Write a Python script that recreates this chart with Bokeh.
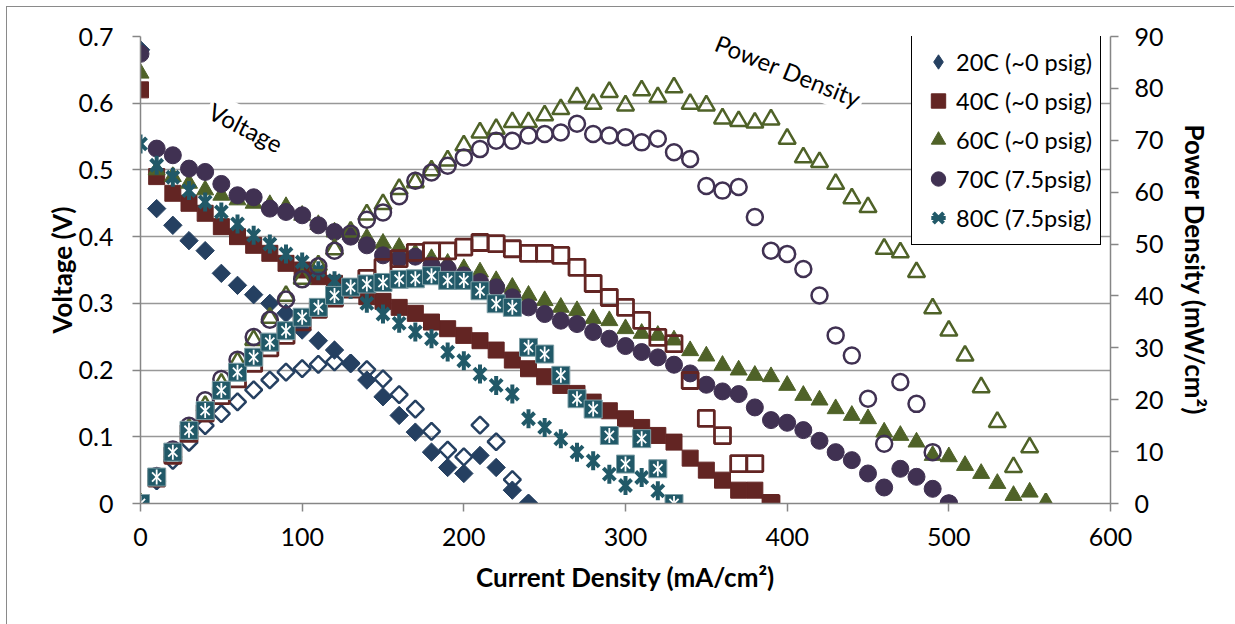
import numpy as np
from bokeh.plotting import figure
from bokeh.models import (Range1d, LinearAxis, Legend, LegendItem, Label,
                          FixedTicker, CustomJSTickFormatter)
from bokeh.embed import file_html
from bokeh.resources import INLINE

# ---------------- data ----------------
current = [0, 10, 20, 30, 40, 50, 60, 70, 80, 90, 100, 110, 120, 130, 140,
           150, 160, 170, 180, 190, 200, 210, 220, 230, 240, 250, 260, 270,
           280, 290, 300, 310, 320, 330, 340, 350, 360, 370, 380, 390, 400,
           410, 420, 430, 440, 450, 460, 470, 480, 490, 500, 510, 520, 530,
           540, 550, 560]

v20 = [0.68, 0.442, 0.417, 0.394, 0.379, 0.345, 0.327, 0.313, 0.30, 0.285,
       0.26, 0.244, 0.23, 0.21, 0.185, 0.16, 0.132, 0.107, 0.077, 0.054,
       0.045, 0.072, 0.054, 0.02, 0.0]
p20 = [0, 4.4, 8.3, 11.8, 15, 17.3, 19.6, 21.9, 23.8, 25.3, 26, 26.8, 27.3,
       27, 25.8, 24, 21, 18.2, 13.9, 10.3, 9, 15.1, 11.9, 4.6, 0]

v40 = [0.62, 0.49, 0.465, 0.45, 0.435, 0.415, 0.40, 0.387, 0.375, 0.36,
       0.35, 0.34, 0.33, 0.32, 0.31, 0.303, 0.294, 0.285, 0.272, 0.262,
       0.252, 0.244, 0.23, 0.215, 0.202, 0.19, 0.177, 0.165, 0.152, 0.139,
       0.127, 0.114, 0.102, 0.092, 0.068, 0.05, 0.035, 0.02, 0.02, 0.0]
p40 = [0, 4.9, 9.3, 13.5, 17.4, 20.8, 24, 27, 30, 32.4, 35, 37.4, 39.6, 41.6,
       43.4, 45.5, 47.2, 48.4, 48.7, 48.7, 49.4, 50.3, 50.1, 49.1, 48.2, 48.2,
       47.8, 45.5, 42.4, 39.7, 37.8, 35.3, 32, 30.8, 23.7, 16.4, 13.1, 7.7,
       7.7, 0]

v60 = [0.645, 0.50, 0.49, 0.48, 0.47, 0.462, 0.455, 0.45, 0.448, 0.445,
       0.432, 0.418, 0.407, 0.403, 0.398, 0.39, 0.384, 0.375, 0.367, 0.36,
       0.352, 0.347, 0.334, 0.324, 0.312, 0.304, 0.294, 0.289, 0.277, 0.274,
       0.262, 0.255, 0.252, 0.245, 0.229, 0.221, 0.207, 0.2, 0.192, 0.19,
       0.177, 0.162, 0.155, 0.142, 0.132, 0.127, 0.107, 0.102, 0.092, 0.072,
       0.07, 0.057, 0.045, 0.03, 0.012, 0.017, 0.0]
p60 = [0, 5, 9.8, 14.4, 18.8, 23.1, 27.3, 31.5, 35.8, 40, 43.3, 45.9, 49,
       52.4, 55.7, 57.7, 60.6, 61.9, 64.2, 66.1, 69, 71.5, 72.2, 73.5, 73.5,
       74.8, 76, 78.3, 77, 79.3, 76.7, 79.6, 78.3, 80.2, 77, 76.7, 74.2, 73.7,
       73.4, 74, 70.3, 66.7, 65.8, 61.6, 58.8, 57.1, 49.1, 48.4, 44.6, 37.6,
       33.3, 28.5, 22.4, 15.7, 7, 10.8, 0]

v70 = [0.674, 0.532, 0.522, 0.502, 0.497, 0.479, 0.462, 0.459, 0.442, 0.437,
       0.432, 0.417, 0.407, 0.40, 0.387, 0.372, 0.367, 0.37, 0.357, 0.352,
       0.342, 0.332, 0.324, 0.309, 0.294, 0.284, 0.274, 0.269, 0.257, 0.247,
       0.236, 0.227, 0.219, 0.208, 0.195, 0.178, 0.168, 0.164, 0.144, 0.125,
       0.121, 0.11, 0.094, 0.077, 0.065, 0.045, 0.024, 0.052, 0.04, 0.022, 0.0]
p70 = [0, 5.3, 10.4, 15, 19.9, 24, 27.7, 32.1, 35.4, 39.3, 43.2, 45.7, 48.7,
       52, 54.7, 56.1, 59.2, 62.2, 63.8, 65.1, 66.7, 68.3, 69.9, 69.9, 70.9,
       71.2, 71.5, 73.2, 71.2, 70.9, 70.6, 69.6, 70.3, 67.7, 66.4, 61.2, 60.3,
       61, 55.2, 48.7, 48.1, 45.2, 40.1, 32.4, 28.5, 20.2, 11.5, 23.4, 19.2,
       9.9, 0]

v80 = [0.539, 0.507, 0.489, 0.469, 0.452, 0.437, 0.419, 0.402, 0.389, 0.374,
       0.362, 0.349, 0.334, 0.321, 0.30, 0.284, 0.27, 0.257, 0.247, 0.227,
       0.214, 0.194, 0.177, 0.164, 0.127, 0.114, 0.097, 0.077, 0.064, 0.044,
       0.027, 0.039, 0.019, 0.0]
p80 = [0, 5.1, 9.9, 14.1, 17.9, 21.8, 25.3, 28.2, 31.1, 33.3, 35.9, 37.8,
       40.1, 41.7, 42.3, 42.6, 43.2, 43.3, 43.9, 43, 43, 41, 38.5, 37.8, 30.1,
       28.8, 24.7, 20.2, 18.2, 13.1, 7.6, 12.5, 6.7, 0]

labels = ["20C (~0 psig)", "40C (~0 psig)", "60C (~0 psig)",
          "70C (7.5psig)", "80C (7.5psig)"]
x_ticks = [0, 100, 200, 300, 400, 500, 600]
v_ticks = [0, 0.1, 0.2, 0.3, 0.4, 0.5, 0.6, 0.7]
p_ticks = [0, 10, 20, 30, 40, 50, 60, 70, 80, 90]

# ---------------- styling ----------------
FONT = "Lato"
C20, C40, C60, C70, C80 = "#254061", "#632523", "#4F6228", "#403152", "#215968"
AX = "#868686"

p = figure(width=1228, height=618, x_range=Range1d(0, 600),
           y_range=Range1d(0, 0.7), output_backend="svg",
           toolbar_location=None, margin=(6, 0, 0, 6),
           min_border_left=133, min_border_right=125, min_border_top=29,
           min_border_bottom=122,
           styles={"border-top": "1px solid #8a8a8a",
                   "border-left": "1px solid #8a8a8a"})
p.extra_y_ranges = {"p": Range1d(0, 90)}
p.outline_line_color = None
p.background_fill_color = "white"
p.border_fill_color = "white"

fmt = CustomJSTickFormatter(code="return String(Math.round(tick*10)/10)")


def style_axis(ax, ticks, title):
    ax.ticker = FixedTicker(ticks=ticks)
    ax.axis_label = title
    ax.axis_label_text_font = FONT
    ax.axis_label_text_font_style = "bold"
    ax.axis_label_text_font_size = "26px"
    ax.axis_label_text_color = "black"
    ax.major_label_text_font = FONT
    ax.major_label_text_font_size = "25px"
    ax.major_label_text_color = "black"
    ax.axis_line_color = AX
    ax.axis_line_width = 1.5
    ax.major_tick_line_color = AX
    ax.major_tick_line_width = 1.5
    ax.major_tick_in = 0
    ax.major_tick_out = 8
    ax.minor_tick_line_color = None


style_axis(p.xaxis[0], x_ticks, "Current Density (mA/cm²)")
p.xaxis[0].major_label_standoff = 16
p.xaxis[0].axis_label_standoff = 12
style_axis(p.yaxis[0], v_ticks, "Voltage (V)")
p.yaxis[0].formatter = fmt
p.yaxis[0].major_label_standoff = 19
p.yaxis[0].axis_label_standoff = -2

ry = LinearAxis(y_range_name="p")
style_axis(ry, p_ticks, "Power Density (mW/cm²)")
ry.major_label_standoff = 16
ry.axis_label_standoff = 12
p.add_layout(ry, "right")

p.xgrid.grid_line_color = None
p.ygrid.ticker = FixedTicker(ticks=v_ticks)
p.ygrid.grid_line_color = "#989898"
p.ygrid.grid_line_width = 1.3

# ---------------- voltage series (filled) ----------------
r20v = p.scatter(current[:len(v20)], v20, marker="square", angle=np.pi / 4,
                 size=13, fill_color=C20, line_color=C20)
r40v = p.scatter(current[:len(v40)], v40, marker="square", size=16,
                 fill_color=C40, line_color=C40)
r60v = p.scatter(current[:len(v60)], v60, marker="triangle", size=17,
                 fill_color=C60, line_color=C60)
r70v = p.scatter(current[:len(v70)], v70, marker="circle", size=17,
                 fill_color=C70, line_color=C70)
r80v_a = p.scatter(current[:len(v80)], v80, marker="x", size=17,
                   line_color=C80, line_width=4)
r80v_b = p.scatter(current[:len(v80)], v80, marker="dash", angle=np.pi / 2,
                   size=19, line_color=C80, line_width=4)

# ---------------- power density series (open) ----------------
p.scatter(current[:len(p20)], p20, y_range_name="p", marker="square",
          angle=np.pi / 4, size=12, fill_color=None, line_color=C20,
          line_width=2.5)
p.scatter(current[:len(p40)], p40, y_range_name="p", marker="square",
          size=16, fill_color=None, line_color=C40, line_width=2.8)
p.scatter(current[:len(p60)], p60, y_range_name="p", marker="triangle",
          size=17, fill_color=None, line_color=C60, line_width=2.5)
p.scatter(current[:len(p70)], p70, y_range_name="p", marker="circle",
          size=16, fill_color=None, line_color=C70, line_width=2.5)
p.scatter(current[:len(p80)], p80, y_range_name="p", marker="square",
          size=18, fill_color=C80, line_color="#7f9fa6", line_width=1)
p.scatter(current[:len(p80)], p80, y_range_name="p", marker="x",
          size=13, line_color="white", line_width=1.8)
p.scatter(current[:len(p80)], p80, y_range_name="p", marker="dash",
          angle=np.pi / 2, size=15, line_color="white", line_width=1.8)

# legend-only (hidden) diamond renderer for the 20C series
r20_leg = p.scatter(current[:len(v20)], v20, marker="diamond",
                    fill_color=C20, line_color=C20, visible=False)

# ---------------- annotations ----------------
p.add_layout(Label(x=65.2, y=0.564, text="Voltage", angle=-27,
                   angle_units="deg", text_align="center",
                   text_baseline="middle", text_font=FONT,
                   text_font_size="24px", text_color="black",
                   background_fill_color="white", padding=3))
p.add_layout(Label(x=400.7, y=0.649, text="Power Density", angle=-22,
                   angle_units="deg", text_align="center",
                   text_baseline="middle", text_font=FONT,
                   text_font_size="24px", text_color="black",
                   background_fill_color="white", padding=3))

legend = Legend(items=[LegendItem(label=labels[0], renderers=[r20_leg]),
                       LegendItem(label=labels[1], renderers=[r40v]),
                       LegendItem(label=labels[2], renderers=[r60v]),
                       LegendItem(label=labels[3], renderers=[r70v]),
                       LegendItem(label=labels[4], renderers=[r80v_a, r80v_b])],
                location=(771, 258))
legend.border_line_color = "black"
legend.border_line_width = 1.2
legend.border_line_alpha = 1
legend.background_fill_color = "white"
legend.background_fill_alpha = 1
legend.inactive_fill_alpha = 0
legend.label_text_font = FONT
legend.label_text_font_size = "23.5px"
legend.label_text_color = "black"
legend.glyph_width = 36
legend.glyph_height = 37
legend.spacing = 2
legend.padding = 8
legend.label_standoff = 0
legend.margin = 0
p.add_layout(legend)

open("out.html", "w").write(file_html(p, INLINE))
